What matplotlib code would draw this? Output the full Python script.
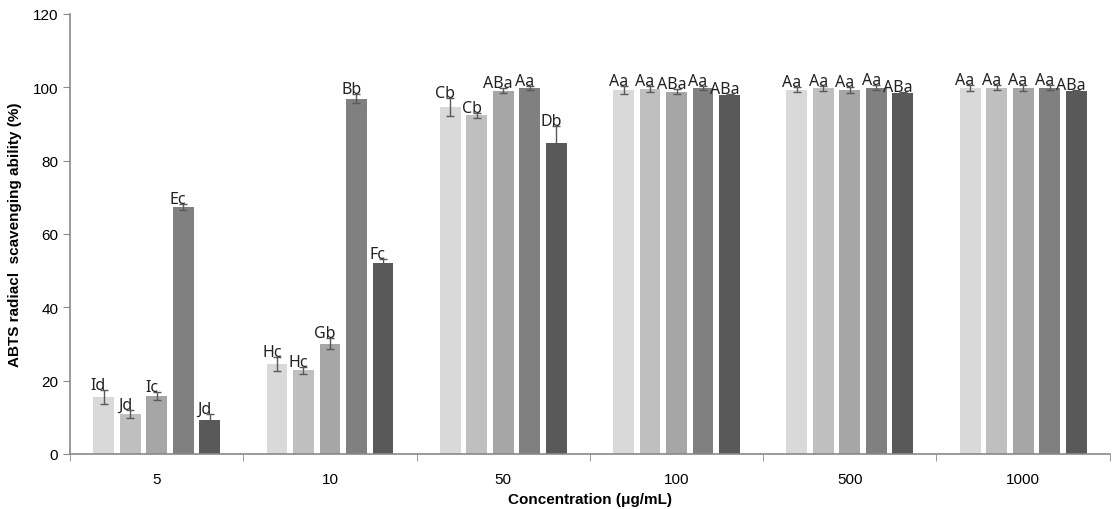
import numpy as np
import matplotlib.pyplot as plt

groups = ['5', '10', '50', '100', '500', '1000']
s1 = [15.5, 24.5, 94.5, 99.2, 99.3, 99.8]
s2 = [10.9, 22.8, 92.3, 99.5, 99.7, 99.8]
s3 = [15.8, 30.0, 99.0, 98.8, 99.2, 99.8]
s4 = [67.4, 96.8, 99.8, 99.8, 99.8, 99.8]
s5 = [9.3, 52.0, 84.8, 97.8, 98.5, 98.9]
e1 = [1.8, 1.8, 2.5, 1.0, 0.7, 0.8]
e2 = [1.0, 1.0, 0.7, 0.8, 0.7, 0.7]
e3 = [1.0, 1.5, 0.7, 0.6, 0.8, 0.8]
e4 = [0.8, 1.2, 0.6, 0.6, 0.7, 0.7]
e5 = [1.5, 1.2, 4.6, 0.2, 0.2, 0.2]
l1 = ['Id', 'Hc', 'Cb', 'Aa', 'Aa', 'Aa']
l2 = ['Jd', 'Hc', 'Cb', 'Aa', 'Aa', 'Aa']
l3 = ['Ic', 'Gb', 'ABa', 'ABa', 'Aa', 'Aa']
l4 = ['Ec', 'Bb', 'Aa', 'Aa', 'Aa', 'Aa']
l5 = ['Jd', 'Fc', 'Db', 'ABa', 'ABa', 'ABa']

colors = ['#D9D9D9', '#BFBFBF', '#A6A6A6', '#808080', '#595959']
series = [s1, s2, s3, s4, s5]
errs = [e1, e2, e3, e4, e5]
labels = [l1, l2, l3, l4, l5]

fig = plt.figure(figsize=(11.12, 5.10), dpi=100)
ax = fig.add_axes([0.063, 0.108, 0.935, 0.863])

x = np.arange(len(groups))
pitch = 0.153
w = 0.12
for i in range(5):
    xs = x + (i - 2) * pitch
    ax.bar(xs, series[i], width=w, color=colors[i], zorder=2)
    ax.errorbar(xs, series[i], yerr=errs[i], fmt='none', ecolor='#595959',
                elinewidth=1, capsize=3, capthick=1, zorder=3)
    for j in range(len(groups)):
        ax.text(xs[j] - 0.03, series[i][j] + errs[i][j] - 0.8, labels[i][j],
                ha='center', va='bottom', fontsize=11.5, family='Noto Sans',
                color='#222222', zorder=4)

ax.set_xlim(-0.5, len(groups) - 0.5)
ax.set_ylim(0, 120)
ax.set_yticks(np.arange(0, 121, 20))
ax.set_xticks(x)
ax.set_xticklabels(groups)
ax.set_xticks(np.arange(-0.5, len(groups), 1), minor=True)
ax.tick_params(axis='x', which='major', length=0, pad=13)
ax.tick_params(axis='x', which='minor', length=5, color='#898989')
ax.tick_params(axis='y', length=5, color='#898989', direction='out')
for lab in ax.get_xticklabels() + ax.get_yticklabels():
    lab.set_family('Liberation Sans')
    lab.set_fontsize(11)
for s in ['top', 'right']:
    ax.spines[s].set_visible(False)
for s in ['left', 'bottom']:
    ax.spines[s].set_color('#898989')
    ax.spines[s].set_linewidth(1.2)

ax.set_ylabel('ABTS radiacl  scavenging ability (%)', fontsize=11,
              fontweight='bold', family='Liberation Sans', labelpad=8)
ax.set_xlabel('Concentration (μg/mL)', fontsize=11, fontweight='bold',
              family='Liberation Sans', labelpad=4)

plt.savefig('out.png', dpi=100)
